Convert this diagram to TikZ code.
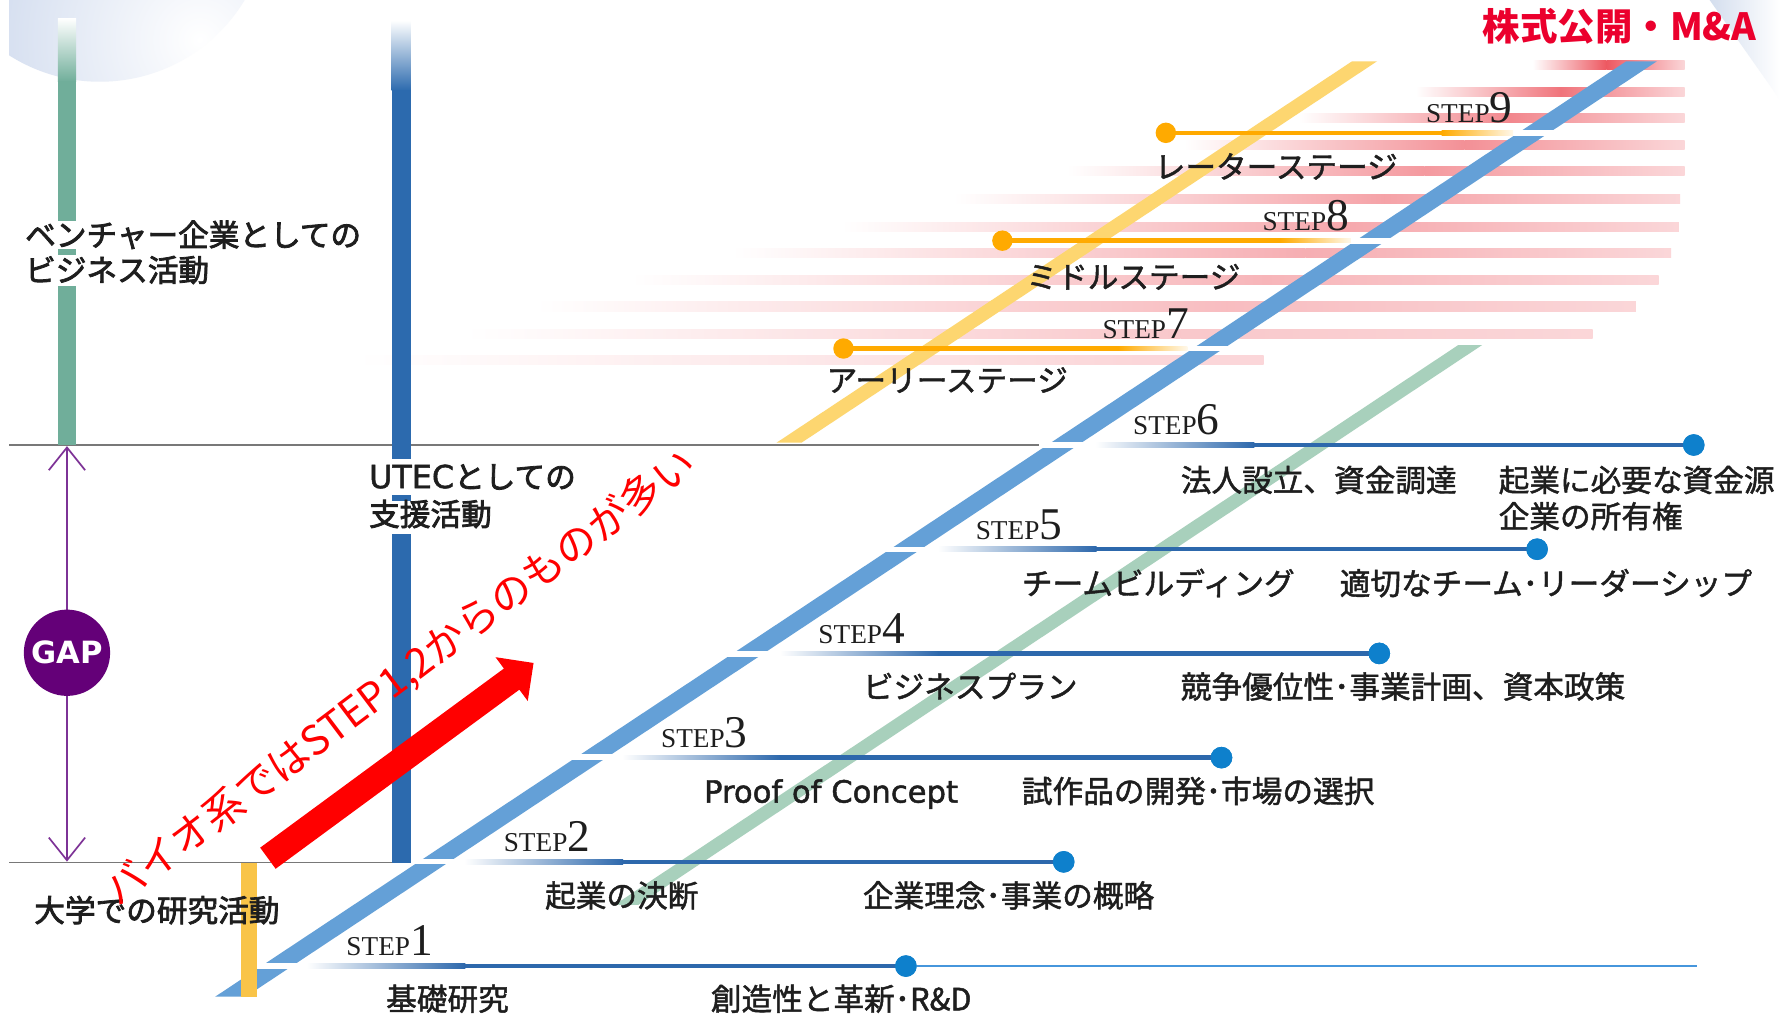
\documentclass[tikz,border=0pt]{standalone}
\usepackage{fontspec}
\setmainfont{Noto Sans CJK JP}
\newfontfamily\jplab{Noto Sans CJK JP}[FakeBold=1.5]
\newfontfamily\jpleft{Noto Sans CJK JP}[FakeBold=2.5]
\newfontfamily\dejavu{DejaVu Sans}[FakeBold=1.5]
\newfontfamily\stepfont{Liberation Serif}
\newfontfamily\gapfont{DejaVu Sans}
\usetikzlibrary{arrows.meta,calc}
\definecolor{bandblue}{RGB}{100,160,215}
\definecolor{barblue}{RGB}{44,106,174}
\definecolor{linblue}{RGB}{45,104,172}
\definecolor{dotblue}{RGB}{14,128,204}
\definecolor{lightlin}{RGB}{70,150,220}
\definecolor{bargreen}{RGB}{112,174,154}
\definecolor{diaggreen}{RGB}{168,208,188}
\definecolor{diagyellow}{RGB}{253,214,112}
\definecolor{baryellow}{RGB}{249,196,72}
\definecolor{orangeln}{RGB}{255,170,0}
\definecolor{gapviolet}{RGB}{100,0,120}
\definecolor{arrowviolet}{RGB}{125,50,150}
\definecolor{gridgray}{RGB}{120,120,120}
\definecolor{txt}{RGB}{30,30,30}
\definecolor{ipored}{RGB}{235,0,45}
\definecolor{stripec}{RGB}{235,70,80}
\definecolor{sphere}{RGB}{180,197,228}
\definecolor{wedgec}{RGB}{212,222,238}
\tikzset{
  jlab/.style={text=txt, font=\jplab\fontsize{27}{30}\selectfont, inner sep=0pt, anchor=base west},
  leftlab/.style={text=txt, font=\jpleft\fontsize{27}{30}\selectfont, inner sep=0pt, anchor=base west},
  steplab/.style={text=txt, font=\stepfont\fontsize{24}{24}\selectfont, inner sep=0pt, anchor=base west},
  bdot/.style={circle, fill=dotblue, minimum size=19pt, inner sep=0pt},
  odot/.style={circle, fill=orangeln, minimum size=18pt, inner sep=0pt},
}
\newcommand\stepdigit[1]{{\fontsize{40}{40}\selectfont #1}}
\begin{document}
\begin{tikzpicture}[x=1pt,y=-1pt]
\useasboundingbox (0,0) rectangle (1568,895);
\fill[white] (0,0) rectangle (1568,895);

% top-left sphere
\begin{scope}
  \clip (8,0) rectangle (400,120);
  \clip (88,-77) circle (149);
  \shade[inner color=white, outer color=sphere] (176,35) circle (320);
\end{scope}
% top-right wedge
\shade[left color=wedgec, right color=white] (1506,0) -- (1568,0) -- (1568,88) -- cycle;

% pink stripes
\foreach \yy/\xl/\xp/\xr/\k in {57/1350/1415/1484/90, 81/1247/1375/1484/75, 104/1144/1330/1484/65, 128/1043/1290/1484/60, 151/940/1255/1484/55, 175/840/1220/1480/50, 200/741/1185/1479/47, 223/645/1150/1472/44, 247/556/1115/1461/40, 270/472/1080/1441/36, 294/410/1040/1403/30, 317/313/1000/1113/22}{
  \shade[left color=white, right color=stripec!\k] (\xl,\yy-4) rectangle (\xp,\yy+4);
  \shade[left color=stripec!\k, right color=stripec!22] (\xp,\yy-4) rectangle (\xr,\yy+4);
}

% gray lines
\draw[gridgray, line width=1.2] (8,392) -- (915,392);
\draw[gridgray, line width=1.2] (8,760) -- (362,760);

% vertical bars
\shade[top color=white, bottom color=bargreen] (51,16) rectangle (67,72);
\fill[bargreen] (51,71) rectangle (67,392);
\shade[top color=white, bottom color=barblue] (345,18) rectangle (362,80);
\fill[barblue] (345,79) rectangle (362,760);
% white breaks where labels cross the bars
\fill[white] (50,195) rectangle (68,219);
\fill[white] (50,225) rectangle (68,252);
\fill[white] (344,404) rectangle (363,436);
\fill[white] (344,441) rectangle (363,470);

% diagonals
\fill[diagyellow] (684,390) -- (706,390) -- (1213,54) -- (1191,54) -- cycle;
\fill[diaggreen] (541.5,797) -- (562.5,797) -- (1305.5,304) -- (1284.5,304) -- cycle;
\fill[bandblue] (189.5,878) -- (216.5,878) -- (1459.5,54) -- (1432.5,54) -- cycle;
\foreach \yy/\xc in {851/243.7, 759/382.5, 667/521.2, 576/658.4, 484/797.2, 392/935.9, 307/1064.1, 212/1207.3, 117/1350.6}
  \fill[white] (\xc-20,\yy-2.5) rectangle (\xc+20,\yy+2.5);

% yellow bar
\fill[baryellow] (212,760) rectangle (226,878);

% blue step lines
\foreach \n/\xs/\xd/\yy in {1/270/798/851, 2/409/937/759.2, 3/548/1076/667.4, 4/687/1215/575.6, 5/826/1354/483.8, 6/965/1492/392}{
  \coordinate (s\n) at (\xs,\yy);
  \coordinate (m\n) at (\xs+139,\yy);
  \shade[left color=white, right color=linblue] (\xs,\yy-2) rectangle (\xs+140,\yy+2);
  \node[bdot] (d\n) at (\xd,\yy) {};
  \draw[linblue, line width=4] (m\n) -- (d\n.center);
  \node[bdot] at (d\n) {};
}
\coordinate (e1) at (1495,851);
\draw[lightlin, line width=1.5] (d1) -- (e1);

% orange step lines
\foreach \n/\xd/\xf/\xe/\yy in {7/743/985/1046/307, 8/883/1128/1190/212, 9/1027/1270/1333/117}{
  \coordinate (of\n) at (\xf,\yy);
  \node[odot] (o\n) at (\xd,\yy) {};
  \draw[orangeln, line width=4] (o\n.center) -- (of\n);
  \shade[left color=orangeln, right color=orangeln!8] (\xf,\yy-2) rectangle (\xe,\yy+2);
}

% step labels
\node[steplab] (st1) at (305,842) {STEP\stepdigit{1}};
\node[steplab] (st2) at (443.6,750.2) {STEP\stepdigit{2}};
\node[steplab] (st3) at (582.2,658.4) {STEP\stepdigit{3}};
\node[steplab] (st4) at (720.8,566.6) {STEP\stepdigit{4}};
\node[steplab] (st5) at (859.4,474.8) {STEP\stepdigit{5}};
\node[steplab] (st6) at (998,383) {STEP\stepdigit{6}};
\node[steplab] (st7) at (971,298) {STEP\stepdigit{7}};
\node[steplab] (st8) at (1112,203) {STEP\stepdigit{8}};
\node[steplab] (st9) at (1256,108) {STEP\stepdigit{9}};

% step texts
\node[jlab] (t1a) at (340,890) {基礎研究};
\node[jlab] (t1b) at (626,890) {創造性と革新･R\&D};
\node[jlab] (t2a) at (480,799) {起業の決断};
\node[jlab] (t2b) at (760,799) {企業理念･事業の概略};
\node[jlab, font=\dejavu\fontsize{27}{30}\selectfont] (t3a) at (620,707) {Proof of Concept};
\node[jlab] (t3b) at (900,707) {試作品の開発･市場の選択};
\node[jlab] (t4a) at (760,615) {ビジネスプラン};
\node[jlab] (t4b) at (1040,615) {競争優位性･事業計画、資本政策};
\node[jlab] (t5a) at (900,524) {チームビルディング};
\node[jlab] (t5b) at (1180,524) {適切なチーム･リーダーシップ};
\node[jlab] (t6a) at (1040,433) {法人設立、資金調達};
\node[jlab] (t6b) at (1320,433) {起業に必要な資金源};
\node[jlab] (t6c) at (1320,465) {企業の所有権};
\node[jlab] (t7) at (728,345) {アーリーステージ};
\node[jlab] (t8) at (904,254) {ミドルステージ};
\node[jlab] (t9) at (1017,157) {レーターステージ};

% left labels
\node[leftlab] (lv1) at (22,217) {ベンチャー企業としての};
\node[leftlab] (lv2) at (22,248) {ビジネス活動};
\node[leftlab] (lu1) at (325,430) {{\dejavu\fontsize{28}{30}\selectfont UTEC}としての};
\node[leftlab] (lu2) at (325,463) {支援活動};
\node[leftlab] (lr) at (30,812) {大学での研究活動};

% IPO
\node[text=ipored, font=\bfseries\fontsize{33}{35}\selectfont, inner sep=0pt, anchor=base west] (ipo) at (1306,36) {株式公開・M\&A};

% GAP
\coordinate (gtop) at (59,393);
\coordinate (gbot) at (59,759);
\draw[arrowviolet, line width=1.5, {Straight Barb[length=20pt,width=32pt]}-{Straight Barb[length=20pt,width=32pt]}] (gtop) -- (gbot);
\node[circle, fill=gapviolet, minimum size=76pt, inner sep=0pt, text=white, font=\gapfont\bfseries\fontsize{27}{27}\selectfont] (gap) at (59,575) {GAP};

% red arrow and note
\fill[red] (242.8,765.3) -- (457.5,607.5) -- (464.9,617.5) -- (470,584) -- (436.5,578.9) -- (443.9,588.9) -- (229.2,746.7) -- cycle;
\node[text=red, font=\fontsize{36}{38}\selectfont, rotate=37, inner sep=0pt] (bio) at (353,597) {バイオ系ではSTEP1,2からのものが多い};
\end{tikzpicture}
\end{document}
